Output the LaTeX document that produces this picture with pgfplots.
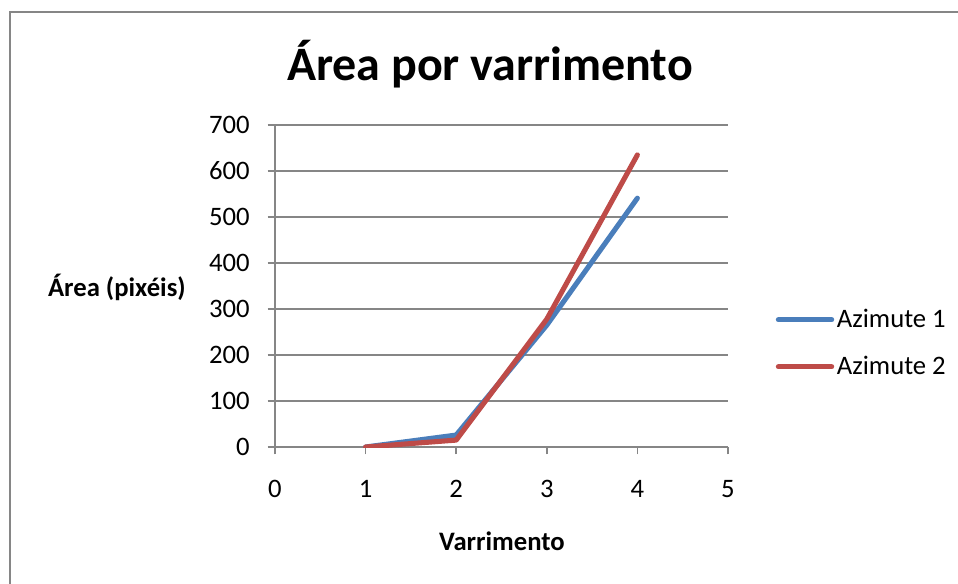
\documentclass[border=0pt]{standalone}
\usepackage{fontspec}
\setmainfont{Carlito}
\usepackage{pgfplots}
\pgfplotsset{compat=1.18}
\definecolor{blueline}{RGB}{74,126,187}
\definecolor{redline}{RGB}{190,75,72}
\definecolor{gridgray}{RGB}{134,134,134}
\begin{document}
\begin{tikzpicture}[x=0.75pt,y=0.75pt]
\useasboundingbox (0,0) rectangle (958,583);
\draw[gridgray, line width=1.5pt] (10,-10) -- (10,571) -- (970,571);
\node[font=\fontsize{36}{42}\selectfont\bfseries] at (490,519) {Área por varrimento};
\begin{axis}[
  at={(206.25pt,102pt)}, anchor=south west, scale only axis,
  width=339.75pt, height=241.5pt,
  xmin=0, xmax=5, ymin=0, ymax=700,
  xtick={0,1,2,3,4,5}, ytick={0,100,200,300,400,500,600,700},
  axis x line=bottom, axis y line=left,
  axis line style={gridgray, line width=1.1pt, -},
  ymajorgrids, grid style={gridgray, line width=1.1pt},
  tick style={gridgray, line width=1.1pt},
  tick align=outside, major tick length=5.5pt,
  ticklabel style={font=\fontsize{20}{24}\selectfont},
  /pgf/number format/assume math mode=true,
  xticklabel style={yshift=-16pt},
  yticklabel style={xshift=-10pt},
  xlabel={\bfseries Varrimento},
  xlabel style={font=\fontsize{20}{24}\selectfont, at={(axis description cs:0.501,-0.292)}, anchor=center},
  ylabel={\bfseries Área (pixéis)},
  ylabel style={font=\fontsize{20}{24}\selectfont, rotate=-90, at={(axis description cs:-0.349,0.497)}, anchor=center},
  legend style={at={(axis description cs:1.105,0.322)}, anchor=west, draw=none, fill=none,
    font=\fontsize{20}{24}\selectfont, row sep=16pt, inner sep=0pt,
    /tikz/every even column/.append style={column sep=2pt}},
  legend cell align=left,
  legend image code/.code={\draw[#1, line cap=round] (0pt,0pt) -- (40pt,0pt);},
]
\addplot[blueline, line width=3.8pt, line cap=round, line join=round] coordinates {(1,0) (2,26) (3,265) (4,541)};
\addlegendentry{Azimute 1}
\addplot[redline, line width=3.8pt, line cap=round, line join=round] coordinates {(1,0) (2,15) (3,278) (4,635)};
\addlegendentry{Azimute 2}
\end{axis}
\end{tikzpicture}
\end{document}
